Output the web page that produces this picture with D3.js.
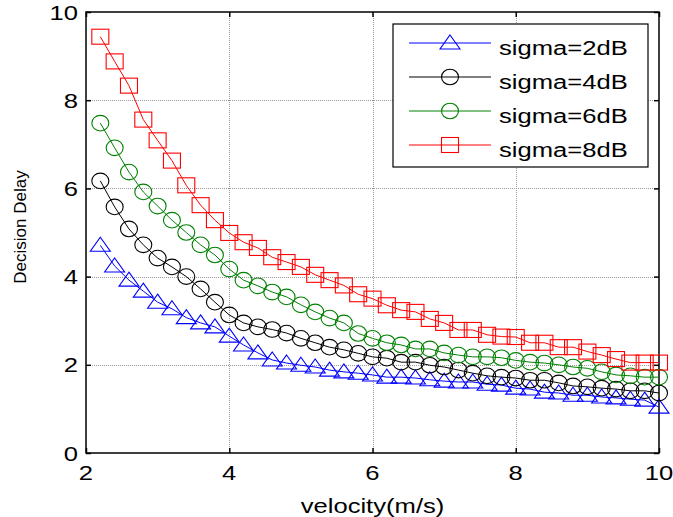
<!DOCTYPE html>
<html><head><meta charset="utf-8">
<script src="https://cdn.jsdelivr.net/npm/d3@7/dist/d3.min.js"></script>
<style>body{margin:0;background:#fff}svg{display:block}text{font-family:"Liberation Sans",Arial,sans-serif}</style>
</head><body>
<script>
const velocity = [2.2,2.4,2.6,2.8,3.0,3.2,3.4,3.6,3.8,4.0,4.2,4.4,4.6,4.8,5.0,5.2,5.4,5.6,5.8,6.0,6.2,6.4,6.6,6.8,7.0,7.2,7.4,7.6,7.8,8.0,8.2,8.4,8.6,8.8,9.0,9.2,9.4,9.6,9.8,10.0];
const sigma2 = [4.71,4.24,3.92,3.67,3.42,3.27,3.07,2.95,2.86,2.65,2.45,2.27,2.11,2.04,1.99,1.95,1.88,1.84,1.81,1.77,1.72,1.72,1.70,1.66,1.63,1.61,1.61,1.56,1.54,1.47,1.45,1.38,1.36,1.31,1.31,1.27,1.25,1.22,1.20,1.04];
const sigma4 = [6.17,5.58,5.08,4.72,4.42,4.22,4.0,3.72,3.42,3.13,2.95,2.86,2.80,2.72,2.60,2.50,2.40,2.34,2.26,2.18,2.15,2.06,2.06,1.99,1.95,1.88,1.81,1.75,1.72,1.70,1.65,1.65,1.59,1.52,1.50,1.47,1.45,1.41,1.41,1.36];
const sigma6 = [7.48,6.92,6.37,5.92,5.60,5.28,5.00,4.72,4.49,4.17,3.92,3.79,3.65,3.54,3.36,3.20,3.06,2.95,2.71,2.60,2.50,2.45,2.36,2.36,2.27,2.22,2.18,2.18,2.16,2.10,2.06,2.04,2.00,1.95,1.92,1.84,1.77,1.75,1.72,1.72];
const sigma8 = [9.44,8.88,8.33,7.56,7.09,6.63,6.07,5.62,5.28,4.99,4.78,4.65,4.44,4.33,4.22,4.04,3.92,3.80,3.60,3.50,3.35,3.24,3.20,3.04,2.95,2.79,2.79,2.68,2.64,2.63,2.50,2.50,2.40,2.40,2.30,2.22,2.13,2.05,2.05,2.05];
const seriesNames = ["sigma=2dB","sigma=4dB","sigma=6dB","sigma=8dB"];
const seriesColors = ["#0000ff","#000000","#008000","#ff0000"];
const seriesMarkers = ["triangle","circle","circle","square"];
const xTicks = [2,4,6,8,10];
const yTicks = [0,2,4,6,8,10];
const xLabel = "velocity(m/s)";
const yLabel = "Decision Delay";

const W = 673, H = 517;
const L = 86, R = 659, T = 12, B = 453;
const SX = 1.22; // horizontal font stretch
const svg = d3.select("body").append("svg").attr("width", W).attr("height", H);
const x = d3.scaleLinear().domain([2,10]).range([L,R]);
const y = d3.scaleLinear().domain([0,10]).range([B,T]);

// grid
const grid = svg.append("g").attr("stroke","#9a9a9a").attr("stroke-width",1).attr("stroke-dasharray","1,1");
grid.selectAll("line.gx").data(xTicks.slice(1,-1)).join("line")
  .attr("x1",d=>Math.round(x(d))+0.5).attr("x2",d=>Math.round(x(d))+0.5).attr("y1",T).attr("y2",B);
grid.selectAll("line.gy").data(yTicks.slice(1,-1)).join("line")
  .attr("y1",d=>Math.round(y(d))+0.5).attr("y2",d=>Math.round(y(d))+0.5).attr("x1",L).attr("x2",R);

// axes with inward ticks
const axB = d3.axisBottom(x).tickValues(xTicks).tickSize(-5).tickFormat("");
const axT = d3.axisTop(x).tickValues(xTicks).tickSize(-5).tickFormat("");
const axL = d3.axisLeft(y).tickValues(yTicks).tickSize(-5).tickFormat("");
const axR = d3.axisRight(y).tickValues(yTicks).tickSize(-5).tickFormat("");
[[axB,`translate(0,${B})`],[axT,`translate(0,${T})`],[axL,`translate(${L},0)`],[axR,`translate(${R},0)`]].forEach(([a,t])=>{
  const g = svg.append("g").attr("transform",t).call(a);
  g.select(".domain").remove();
  g.selectAll(".tick line").attr("stroke","#000").attr("stroke-width",1.5);
});
svg.append("rect").attr("x",L).attr("y",T).attr("width",R-L).attr("height",B-T)
  .attr("fill","none").attr("stroke","#000").attr("stroke-width",1.5);

function stext(g, txt, tx, ty, anchor, size, rot) {
  return g.append("text").attr("transform",`translate(${tx},${ty})` + (rot?` rotate(${rot})`:"") + (rot?` scale(1,${SX})`:` scale(${SX},1)`))
    .attr("text-anchor",anchor).attr("font-size",size).attr("fill","#000").text(txt);
}
xTicks.forEach(d=>stext(svg, d, x(d), 480, "middle", 21));
yTicks.forEach(d=>stext(svg, d, 78, y(d)+7.5, "end", 21));
stext(svg, xLabel, (L+R)/2, 513, "middle", 21);
svg.append("text").attr("transform",`translate(26,227) rotate(-90)`).attr("text-anchor","middle")
  .attr("font-size",17).attr("fill","#000").text(yLabel);

// series
const allSeries = [sigma2,sigma4,sigma6,sigma8];
function drawMarker(g, type, cx, cy, color) {
  if (type==="triangle") {
    g.append("path").attr("d",`M${cx},${cy-8}L${cx+10},${cy+6}L${cx-10},${cy+6}Z`)
      .attr("fill","none").attr("stroke",color).attr("stroke-width",1.1);
  } else if (type==="circle") {
    g.append("ellipse").attr("cx",cx).attr("cy",cy).attr("rx",8.5).attr("ry",7.8)
      .attr("fill","none").attr("stroke",color).attr("stroke-width",1.1);
  } else {
    g.append("rect").attr("x",cx-8.5).attr("y",cy-7.5).attr("width",17).attr("height",15)
      .attr("fill","none").attr("stroke",color).attr("stroke-width",1.1);
  }
}
const line = d3.line().x(d=>x(d[0])).y(d=>y(d[1]));
allSeries.forEach((vals,i)=>{
  const pts = velocity.map((v,j)=>[v,vals[j]]);
  const g = svg.append("g");
  g.append("path").attr("d",line(pts)).attr("fill","none").attr("stroke",seriesColors[i]).attr("stroke-width",1);
  pts.forEach(p=>drawMarker(g, seriesMarkers[i], x(p[0]), y(p[1]), seriesColors[i]));
});

// legend
const lg = svg.append("g");
lg.append("rect").attr("x",393).attr("y",24).attr("width",255).attr("height",143)
  .attr("fill","#fff").attr("stroke","#000").attr("stroke-width",1.2);
const rowY = [43,77,111,145];
seriesNames.forEach((n,i)=>{
  lg.append("line").attr("x1",409).attr("x2",491).attr("y1",rowY[i]).attr("y2",rowY[i])
    .attr("stroke",seriesColors[i]).attr("stroke-width",1);
  drawMarker(lg, seriesMarkers[i], 450, rowY[i], seriesColors[i]);
  stext(lg, n, 499, rowY[i]+12, "start", 21);
});
</script>
</body></html>
